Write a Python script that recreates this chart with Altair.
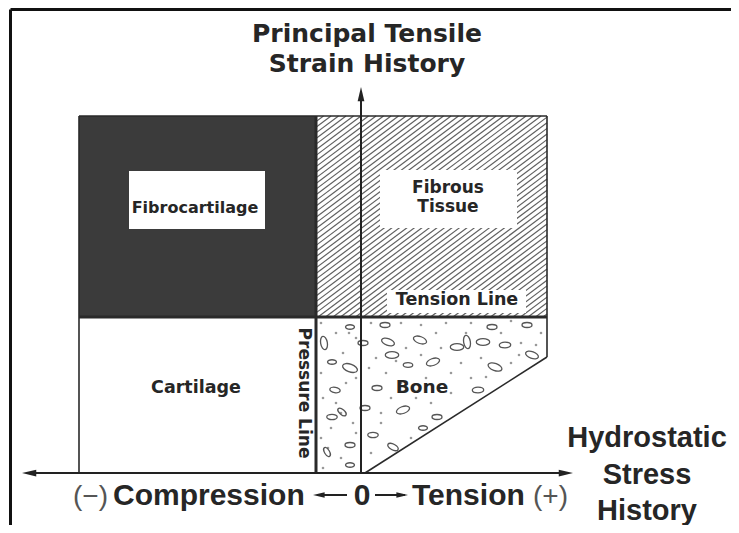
import altair as alt
import pandas as pd
import numpy as np

# ---- diagram geometry (arbitrary units, origin at the crossing of the two axes) ----
X_LEFT, X_PRESSURE, X_RIGHT = -282, -45, 186      # hydrostatic stress history
Y_TOP, Y_TENSION, Y_CORNER = 357, 156, 116         # principal tensile strain history
X_BONE_FOOT = 4
AXIS_X_END = [-339, 212]
AXIS_Y_END = 386
X_DOM = [-353, 370]
Y_DOM = [-52, 465]

# region fills
reg_x = [X_LEFT, X_LEFT, X_PRESSURE]
reg_x2 = [X_PRESSURE, X_PRESSURE, X_RIGHT]
reg_y = [Y_TENSION, 0, Y_TENSION]
reg_y2 = [Y_TOP, Y_TENSION, Y_TOP]
reg_name = ["Fibrocartilage", "Cartilage", "Fibrous Tissue"]
reg_fill = ["#3b3b3b", "#ffffff", "#ffffff"]

# white label boxes
box_x = [-232, 19, 26]
box_x2 = [-96, 156, 165]
box_y = [244, 245, 160]
box_y2 = [302, 303, 183]

# bone texture
ell_x = [-37, -11, -11, -29, -26, -29, -19, -11, -34, -11, 27, 31, 59, 47, 72, 96, 106, 122,
         144, 134, 171, 131, 166, 24, 117, 42, 76, 12, 32, 62, 16, 4, 2]
ell_y = [130, 146, 105, 111, 83, 56, 61, 28, 21, 8, 131, 118, 133, 108, 111, 126, 131, 131,
         128, 106, 118, 146, 148, 148, 83, 63, 56, 38, 26, 45, 85, 65, 130]
ell_a = [80, 0, 20, 0, 10, 0, 40, 0, 60, 0, 20, 0, 20, 0, -20, 0, 80, 0,
         0, 20, 20, 0, 0, 0, 0, -20, 0, 0, 30, 0, 0, 0, 0]
ell_s = [180, 80, 240, 80, 110, 110, 100, 100, 100, 80, 180, 180, 190, 90, 190, 180, 180, 180,
         130, 210, 180, 100, 100, 100, 130, 190, 100, 110, 130, 80, 100, 100, 100]

dot_x = [-40, -25, -5, -40, -18, -5, -38, -15, -30, -8, -40, -20, -5, -38, -25, -12, -33, -20,
         10, 40, 60, 85, 110, 150, 180, 15, 45, 80, 90, 110, 150, 160, 25, 40, 100, 120,
         20, 30, 55, 90, 10, 20, 50, 70, 140, 175, 8, 65, 125, 158, 35, 75, 105, 60]
dot_y = [150, 140, 135, 100, 120, 95, 75, 90, 45, 50, 35, 15, 40, 5, 70, 140, 25, 60,
         150, 150, 148, 150, 150, 152, 140, 115, 125, 125, 100, 95, 110, 130, 100, 90, 110, 115,
         60, 75, 75, 80, 20, 50, 35, 70, 140, 128, 105, 95, 96, 118, 112, 140, 140, 118]

# lines of the diagram: (x, y, x2, y2)
thin_lines = [
    (X_LEFT, Y_TOP, X_RIGHT, Y_TOP),
    (X_LEFT, Y_TOP, X_LEFT, 0),
    (X_RIGHT, Y_TOP, X_RIGHT, Y_CORNER),
    (X_RIGHT, Y_CORNER, X_BONE_FOOT, 0),
]
thick_lines = [
    (X_LEFT, Y_TENSION, X_RIGHT, Y_TENSION),
    (X_PRESSURE, Y_TOP, X_PRESSURE, 0),
]
axis_lines = [
    (AXIS_X_END[0] + 6, 0, AXIS_X_END[1] - 6, 0),
    (0, 0, 0, AXIS_Y_END - 6),
]
frame_lines = [
    (-350.5, Y_DOM[0], -350.5, 463.5),
    (-350.5, 463.5, X_DOM[1], 463.5),
]
small_arrow_lines = [(-40, -22, -14, -22), (14, -22, 44, -22)]

# arrow heads: x, y, direction
head_x = [AXIS_X_END[0], AXIS_X_END[1], 0, -48, 47]
head_y = [0, 0, AXIS_Y_END, -22, -22]
head_dir = ["left", "right", "up", "left", "right"]
head_len = ["big", "big", "big", "small", "small"]

# texts
title_lines = ["Principal Tensile", "Strain History"]
title_y = [431, 401]
stress_lines = ["Hydrostatic", "Stress", "History"]
stress_y = [26, -11, -47]

# ---------------- build ----------------
xs = alt.Scale(domain=X_DOM, nice=False, zero=False)
ys = alt.Scale(domain=Y_DOM, nice=False, zero=False)


def X(f="x"):
    return alt.X(f, type="quantitative", scale=xs, axis=None)


def Y(f="y"):
    return alt.Y(f, type="quantitative", scale=ys, axis=None)


def segs(lst):
    return pd.DataFrame(lst, columns=["x", "y", "x2", "y2"])


def rule_layer(df, width, color="#2a2a2a"):
    return alt.Chart(df).mark_rule(strokeWidth=width, color=color, strokeCap="butt").encode(
        x=X(), y=Y(), x2="x2:Q", y2="y2:Q")


# hatch lines for fibrous tissue region
slope, step = 0.75, 7.5
hx0, hx1, hy0, hy1 = X_PRESSURE, X_RIGHT, Y_TENSION, Y_TOP
hatch = []
c = hx0 - (hy1 - hy0) / slope
while c < hx1:
    xa = max(hx0, c)
    xb = min(hx1, c + (hy1 - hy0) / slope)
    if xb > xa:
        hatch.append((xa, hy0 + slope * (xa - c), xb, hy0 + slope * (xb - c)))
    c += step

regions = pd.DataFrame({"x": reg_x, "x2": reg_x2, "y": reg_y, "y2": reg_y2,
                        "name": reg_name, "fill": reg_fill})
boxes = pd.DataFrame({"x": box_x, "x2": box_x2, "y": box_y, "y2": box_y2})

reg_layer = alt.Chart(regions).mark_rect().encode(
    x=X(), x2="x2:Q", y=Y(), y2="y2:Q", fill=alt.Fill("fill:N", scale=None))
box_layer = alt.Chart(boxes).mark_rect(fill="white").encode(x=X(), x2="x2:Q", y=Y(), y2="y2:Q")
hatch_layer = rule_layer(segs(hatch), 1.2, "#606060")

ELLIPSE = "M -1 0 A 1 0.5 0 1 0 1 0 A 1 0.5 0 1 0 -1 0 Z"
ell_layer = alt.Chart(pd.DataFrame({"x": ell_x, "y": ell_y, "a": ell_a, "s": ell_s})).mark_point(
    shape=ELLIPSE, filled=False, stroke="#555", strokeWidth=1.3, opacity=1).encode(
    x=X(), y=Y(), angle=alt.Angle("a:Q", scale=None), size=alt.Size("s:Q", scale=None))
dot_layer = alt.Chart(pd.DataFrame({"x": dot_x, "y": dot_y})).mark_point(
    shape="circle", filled=True, size=7, color="#999", opacity=1).encode(x=X(), y=Y())

heads = pd.DataFrame({"x": head_x, "y": head_y, "d": head_dir, "l": head_len})
PATHS = {
    "left": "M 0 0 L 1.9 -0.45 L 1.9 0.45 Z",
    "right": "M 0 0 L -1.9 -0.45 L -1.9 0.45 Z",
    "up": "M 0 0 L -0.45 1.9 L 0.45 1.9 Z",
}
head_layers = []
for d, p in PATHS.items():
    for l, sz in [("big", 225), ("small", 150)]:
        sub = heads[(heads.d == d) & (heads.l == l)]
        if len(sub):
            head_layers.append(alt.Chart(sub).mark_point(
                shape=p, filled=True, color="#222", size=sz, opacity=1).encode(x=X(), y=Y()))

BOLD = "Liberation Sans"
WIDE = "DejaVu Sans"


def text_layer(df, size, font=BOLD, weight="bold", align="center", baseline="middle",
               angle=0, color="#262626"):
    return alt.Chart(df).mark_text(font=font, fontSize=size, fontWeight=weight, align=align,
                                   baseline=baseline, angle=angle, color=color).encode(
        x=X(), y=Y(), text="t:N")


title_df = pd.DataFrame({"x": [6, 6], "y": title_y, "t": title_lines})
stress_df = pd.DataFrame({"x": [286] * 3, "y": stress_y, "t": stress_lines})
fibro_lbl = pd.DataFrame({"x": [-166], "y": [265], "t": ["Fibrocartilage"]})
fibrous_lbl = pd.DataFrame({"x": [87, 87], "y": [285, 266], "t": ["Fibrous", "Tissue"]})
mid_lbl = pd.DataFrame({"x": [96, -165], "y": [173, 85], "t": ["Tension Line", "Cartilage"]})
bone_lbl = pd.DataFrame({"x": [61], "y": [86], "t": ["Bone"]})
pressure_lbl = pd.DataFrame({"x": [-57], "y": [80], "t": ["Pressure Line"]})
axis_words = pd.DataFrame({"x": [-248, 51], "y": [-32, -32], "t": ["Compression", "Tension"]})
zero_lbl = pd.DataFrame({"x": [1], "y": [-32], "t": ["0"]})
signs = pd.DataFrame({"x": [-288, 172], "y": [-32, -32], "t": ["(\u2212)", "(+)"]})

layers = [
    reg_layer,
    hatch_layer,
    box_layer,
    dot_layer,
    ell_layer,
    rule_layer(segs(thin_lines), 1.6),
    rule_layer(segs(thick_lines), 3),
    rule_layer(segs(axis_lines), 2, "#222"),
    rule_layer(segs(frame_lines), 3, "#111"),
    rule_layer(segs(small_arrow_lines), 2, "#222"),
    *head_layers,
    text_layer(title_df, 25, font=WIDE, baseline="alphabetic"),
    text_layer(stress_df, 29, baseline="alphabetic"),
    text_layer(fibro_lbl, 16, font=WIDE),
    text_layer(fibrous_lbl, 17, font=WIDE),
    text_layer(mid_lbl, 17.5, font=WIDE),
    text_layer(bone_lbl, 18.5, font=WIDE),
    text_layer(pressure_lbl, 17, font=WIDE, angle=90),
    text_layer(axis_words, 30, align="left", baseline="alphabetic"),
    text_layer(zero_lbl, 30, baseline="alphabetic"),
    text_layer(signs, 28, weight="normal", align="left", baseline="alphabetic", color="#555"),
]

chart = alt.layer(*layers).properties(
    width=723, height=517, padding=0,
    autosize=alt.AutoSizeParams(type="none"),
).configure_view(stroke=None)

chart.save("out.html", embed_options={"renderer": "svg", "actions": False})
